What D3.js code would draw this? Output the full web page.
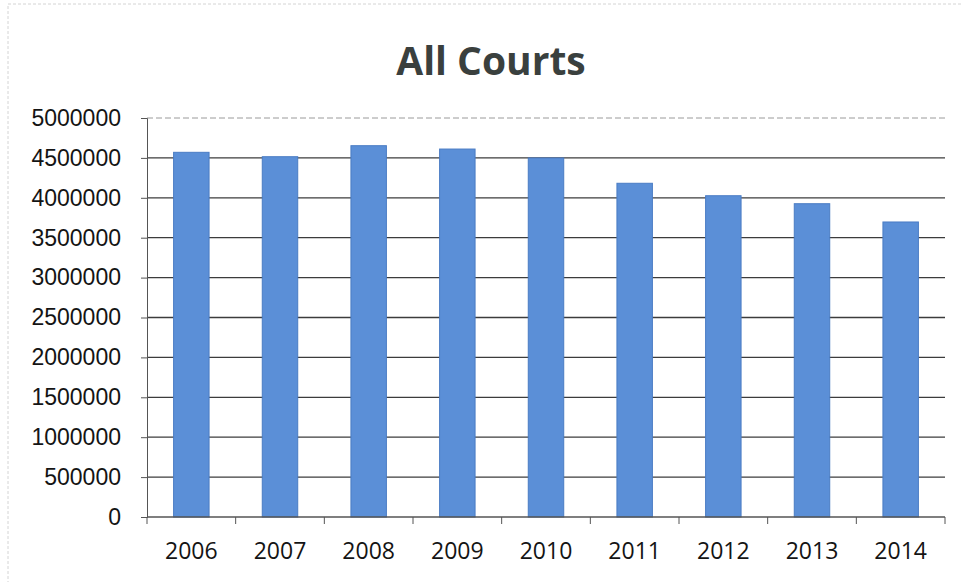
<!DOCTYPE html>
<html>
<head>
<meta charset="utf-8">
<script src="https://cdn.jsdelivr.net/npm/d3@7"></script>
<style>
  body { margin: 0; background: #fff; }
  svg { display: block; font-family: "Open Sans", "Noto Sans", sans-serif; }
</style>
</head>
<body>
<svg class="main" width="963" height="582"></svg>
<script>
'use strict';

var years = ['2006', '2007', '2008', '2009', '2010', '2011', '2012', '2013', '2014'];
var caseCounts = [4570000, 4515000, 4653000, 4611000, 4499000, 4182000, 4026000, 3926000, 3697000];
var yTicks = [0, 500000, 1000000, 1500000, 2000000, 2500000, 3000000, 3500000, 4000000, 4500000, 5000000];

var svg = d3.select('svg.main');
var plotLeft = 147, plotRight = 945, plotTop = 118, plotBottom = 517;

// faint page edge from the scan
svg.append('rect')
    .attr('x', 8).attr('y', 4)
    .attr('width', 970).attr('height', 600)
    .attr('fill', 'none')
    .attr('stroke', '#d4d4d4')
    .attr('stroke-dasharray', '3,2');

var x = d3.scaleBand()
    .domain(years)
    .range([plotLeft, plotRight])
    .paddingInner(0.6)
    .paddingOuter(0.3);

var y = d3.scaleLinear()
    .domain([0, 5000000])
    .range([plotBottom, plotTop]);

// gridlines
svg.append('g')
    .selectAll('line')
    .data(yTicks.slice(1))
    .enter()
    .append('line')
    .attr('x1', plotLeft)
    .attr('x2', plotRight)
    .attr('y1', function (d) { return y(d); })
    .attr('y2', function (d) { return y(d); })
    .attr('stroke', function (d) { return d === 5000000 ? '#9a9a9a' : '#3c3c3c'; })
    .attr('stroke-width', function (d) { return d === 5000000 ? 1 : 1.3; })
    .attr('stroke-dasharray', function (d) { return d === 5000000 ? '6,3' : null; });

// bars
svg.append('g')
    .selectAll('rect')
    .data(caseCounts)
    .enter()
    .append('rect')
    .attr('x', function (d, i) { return x(years[i]); })
    .attr('y', function (d) { return y(d); })
    .attr('width', x.bandwidth())
    .attr('height', function (d) { return plotBottom - y(d); })
    .attr('fill', '#5b8fd7')
    .attr('stroke', '#4a7cc4')
    .attr('stroke-width', 1);

// y axis
var yAxis = d3.axisLeft(y)
    .tickValues(yTicks)
    .tickFormat(d3.format('d'))
    .tickSize(6)
    .tickPadding(20);

var yg = svg.append('g')
    .attr('transform', 'translate(' + plotLeft + ',0)')
    .call(yAxis);
yg.select('.domain').attr('stroke', '#555');
yg.selectAll('.tick line').attr('stroke', '#555');
yg.selectAll('text')
    .attr('font-size', 23)
    .attr('fill', '#141414');

// x axis, ticks sit between the categories
var xg = svg.append('g')
    .attr('transform', 'translate(0,' + plotBottom + ')');
xg.append('line')
    .attr('x1', plotLeft).attr('x2', plotRight)
    .attr('stroke', '#555').attr('stroke-width', 1.3);

var step = x.step();
var bounds = d3.range(years.length + 1).map(function (i) {
    return x(years[0]) - step * x.paddingInner() / 2 + i * step;
});
xg.selectAll('.xtick')
    .data(bounds)
    .enter()
    .append('line')
    .attr('class', 'xtick')
    .attr('x1', function (d) { return d; })
    .attr('x2', function (d) { return d; })
    .attr('y1', 0).attr('y2', 7)
    .attr('stroke', '#555');

xg.selectAll('.xlabel')
    .data(years)
    .enter()
    .append('text')
    .attr('class', 'xlabel')
    .attr('x', function (d) { return x(d) + x.bandwidth() / 2; })
    .attr('y', 42)
    .attr('text-anchor', 'middle')
    .attr('font-size', 23)
    .attr('fill', '#141414')
    .text(function (d) { return d; });

// title
svg.append('text')
    .attr('x', 491)
    .attr('y', 75)
    .attr('text-anchor', 'middle')
    .attr('font-size', 39)
    .attr('font-weight', 'bold')
    .attr('fill', '#3a403e')
    .text('All Courts');
</script>
</body>
</html>
